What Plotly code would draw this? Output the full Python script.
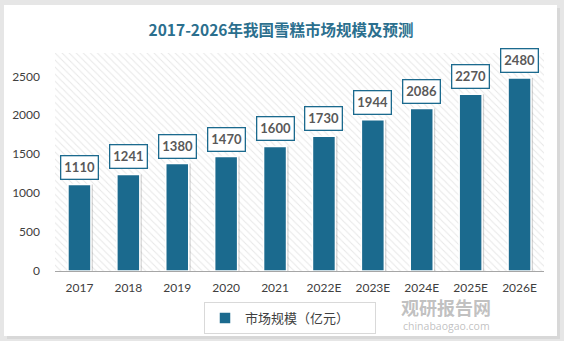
import plotly.graph_objects as go

categories = ["2017", "2018", "2019", "2020", "2021", "2022E", "2023E", "2024E", "2025E", "2026E"]
values = [1110, 1241, 1380, 1470, 1600, 1730, 1944, 2086, 2270, 2480]
y_ticks = [0, 500, 1000, 1500, 2000, 2500]
series_name = "市场规模（亿元）"
title_text = "2017-2026年我国雪糕市场规模及预测"

BAR = "#1B6A8E"
W, H = 564, 341
L, R, T, B = 55, 20, 53, 70
Y_MAX = 2800

n = len(categories)
idx = list(range(n))
plot_w = W - L - R
off = 2.0 / (plot_w / n)
xr = [-0.5, n - 0.5]

fig = go.Figure()

# hatched plot background (base axis x)
fig.add_trace(go.Bar(
    x=[(n - 1) / 2], y=[Y_MAX], width=[n], xaxis="x", yaxis="y",
    marker=dict(color="white", line=dict(width=0),
                pattern=dict(shape="\\", fgcolor="#d0d0d0", bgcolor="white", size=5, solidity=0.2)),
    showlegend=False, hoverinfo="skip",
))

# bar shadow (offset axis x2)
fig.add_trace(go.Bar(
    x=idx, y=values, xaxis="x2", yaxis="y",
    marker=dict(color="rgba(0,0,0,0.16)", line=dict(width=0)),
    width=0.47, showlegend=False, hoverinfo="skip",
))

# main bars (axis x3)
fig.add_trace(go.Bar(
    x=idx, y=values, xaxis="x3", yaxis="y", name=series_name,
    marker=dict(color=BAR, line=dict(color="white", width=1.5)),
    width=0.47,
))

for i, v in zip(idx, values):
    fig.add_annotation(
        x=i, y=v, xref="x3", yref="y", text=f"<b>{v}</b>", showarrow=False, yanchor="bottom", yshift=5,
        font=dict(family="Lato", size=13, color="#595959"),
        bgcolor="white", bordercolor=BAR, borderwidth=1.3, borderpad=3,
    )

def px_x(p):
    return (p - L) / plot_w
def px_y(p):
    return (H - B - p) / (H - T - B)

fig.update_layout(
    width=W, height=H,
    margin=dict(l=L, r=R, t=T, b=B, autoexpand=False),
    paper_bgcolor="#e6e6e6",
    plot_bgcolor="white",
    barmode="overlay",
    title=dict(text=f"<b>{title_text}</b>", x=px_x(281), xref="paper", xanchor="center",
               y=1 - 31 / H, yref="container", yanchor="middle",
               font=dict(family="Noto Sans CJK SC", size=15.5, color="#2B6F8E")),
    xaxis=dict(range=xr, tickvals=idx, ticktext=categories, showgrid=False, zeroline=False,
               showline=True, linecolor="#a6a6a6", linewidth=1, ticks="",
               tickfont=dict(family="Lato", size=12, color="#404040"), ticklabelstandoff=6),
    xaxis2=dict(overlaying="x", range=[xr[0] - off, xr[1] - off], visible=False),
    xaxis3=dict(overlaying="x", range=xr, visible=False),
    yaxis=dict(range=[0, Y_MAX], tickvals=y_ticks, showgrid=False, zeroline=False,
               tickfont=dict(family="Lato", size=12, color="#404040"), ticklabelstandoff=14),
    legend=dict(orientation="h", xref="container", x=204 / W, xanchor="left",
                yref="container", y=1 - 302 / H, yanchor="top",
                bordercolor="#d9d9d9", borderwidth=1, bgcolor="white",
                font=dict(family="Noto Sans CJK SC", size=13, color="#404040"),
                itemwidth=30, entrywidth=125, tracegroupgap=0),
    showlegend=True,
)

# white card behind everything
fig.add_shape(type="rect", xref="paper", yref="paper", layer="below",
              x0=px_x(7), x1=px_x(560), y0=px_y(339), y1=px_y(8),
              fillcolor="#d8d8d8", line=dict(width=0))
fig.add_shape(type="rect", xref="paper", yref="paper", layer="below",
              x0=px_x(4), x1=px_x(557), y0=px_y(336), y1=px_y(5),
              fillcolor="white", line=dict(width=0))

# watermark
fig.add_annotation(xref="paper", yref="paper", x=px_x(446), y=px_y(307), xanchor="center", yanchor="middle",
                   text="<b>观研报告网</b>", showarrow=False,
                   font=dict(family="Noto Sans CJK SC", size=18, color="rgba(140,140,140,0.55)"))
fig.add_annotation(xref="paper", yref="paper", x=px_x(446), y=px_y(326), xanchor="center", yanchor="middle",
                   text="chinabaogao.com", showarrow=False,
                   font=dict(family="Open Sans", size=10.5, color="rgba(140,140,140,0.55)"))

fig.write_html("out.html")
